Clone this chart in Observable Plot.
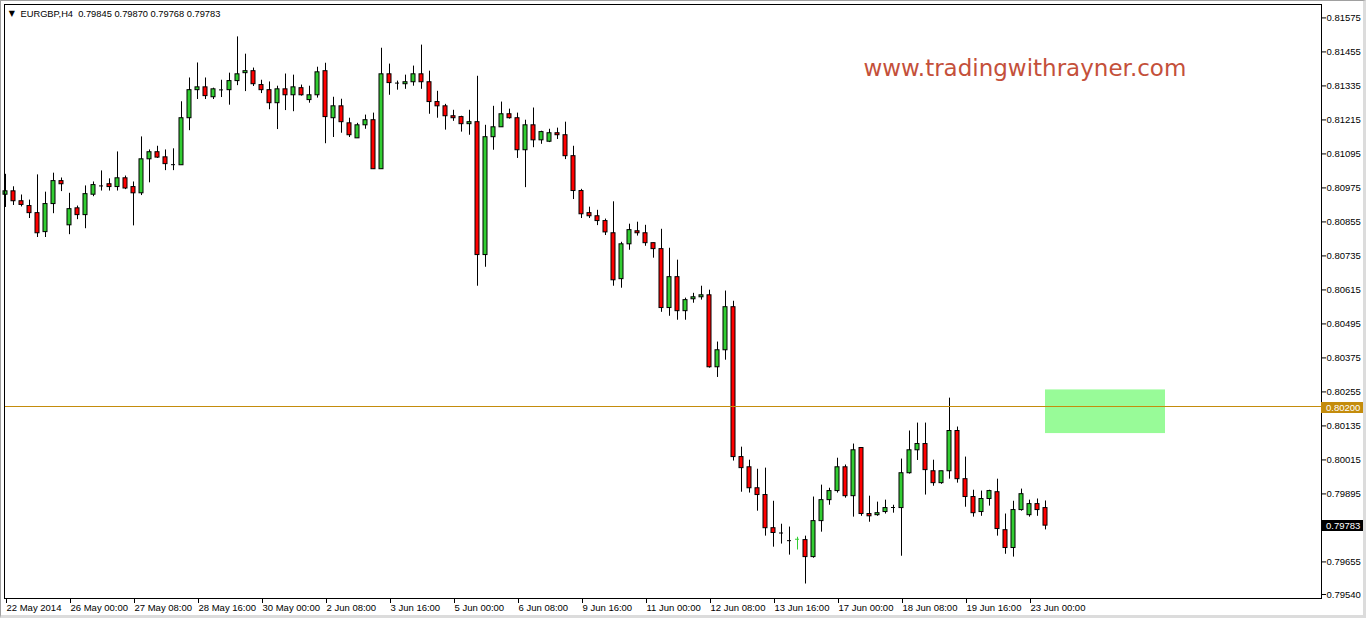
<!DOCTYPE html>
<html><head><meta charset="utf-8">
<script src="https://cdn.jsdelivr.net/npm/d3@7"></script>
<script src="https://cdn.jsdelivr.net/npm/@observablehq/plot@0.6"></script>
<style>
html,body{margin:0;padding:0;background:#fff;}
#wrap{position:relative;width:1366px;height:618px;overflow:hidden;}
#border{position:absolute;left:0;top:0;width:1366px;height:618px;box-sizing:border-box;border-top:1px solid #a0a0a0;border-left:1px solid #a0a0a0;border-right:3px solid #dcdcdc;border-bottom:3px solid #dcdcdc;pointer-events:none;}
</style></head><body><div id="wrap"><div id="chart"></div><div id="border"></div></div>
<script>
// ---- data (EURGBP, H4) ----
const symbol = "EURGBP,H4";
const opens = [0.80951,0.80963,0.80928,0.80911,0.80886,0.80819,0.80918,0.80999,0.80843,0.80903,
0.80879,0.80951,0.80982,0.80988,0.80978,0.81009,0.80978,0.80956,0.81076,0.81101,
0.81083,0.81057,0.81055,0.81221,0.81320,0.81330,0.81295,0.81321,0.81320,0.81352,
0.81380,0.81387,0.81338,0.81320,0.81274,0.81323,0.81302,0.81327,0.81285,0.81302,
0.81387,0.81221,0.81263,0.81203,0.81150,0.81196,0.81214,0.81041,0.81376,0.81345,
0.81341,0.81348,0.81376,0.81348,0.81278,0.81263,0.81228,0.81225,0.81200,0.81207,
0.80738,0.81154,0.81189,0.81235,0.81221,0.81108,0.81196,0.81143,0.81138,0.81168,
0.81161,0.81087,0.80964,0.80886,0.80875,0.80858,0.80815,0.80653,0.80776,0.80822,
0.80815,0.80780,0.80759,0.80551,0.80660,0.80540,0.80582,0.80589,0.80596,0.80342,
0.80402,0.80554,0.80025,0.79989,0.79915,0.79891,0.79774,0.79757,0.79730,0.79733,
0.79732,0.79672,0.79799,0.79873,0.79905,0.79989,0.79887,0.80057,0.79824,0.79820,
0.79831,0.79847,0.79845,0.79968,0.80049,0.80071,0.79975,0.79933,0.79975,0.80117,
0.79947,0.79884,0.79831,0.79877,0.79901,0.79767,0.79704,0.79838,0.79820,0.79859,
0.79845];
const highs = [0.81023,0.80979,0.80950,0.80932,0.81021,0.80960,0.81027,0.81010,0.80956,0.80911,
0.80982,0.80996,0.81035,0.81007,0.81102,0.81017,0.80996,0.81155,0.81109,0.81122,
0.81109,0.81113,0.81279,0.81363,0.81416,0.81363,0.81327,0.81355,0.81380,0.81508,
0.81447,0.81398,0.81355,0.81349,0.81334,0.81377,0.81373,0.81338,0.81334,0.81401,
0.81415,0.81295,0.81288,0.81221,0.81203,0.81232,0.81239,0.81468,0.81412,0.81352,
0.81373,0.81405,0.81479,0.81387,0.81316,0.81270,0.81249,0.81228,0.81249,0.81369,
0.81196,0.81263,0.81278,0.81253,0.81239,0.81214,0.81257,0.81175,0.81182,0.81186,
0.81207,0.81122,0.80970,0.80907,0.80896,0.80865,0.80926,0.80783,0.80847,0.80854,
0.80843,0.80780,0.80829,0.80762,0.80720,0.80586,0.80603,0.80628,0.80614,0.80431,
0.80611,0.80575,0.80060,0.80014,0.79982,0.79986,0.79869,0.79788,0.79778,0.79742,
0.79746,0.79884,0.79926,0.79915,0.80021,0.79997,0.80071,0.80057,0.79887,0.79866,
0.79873,0.79855,0.80018,0.80117,0.80145,0.80145,0.80014,0.79975,0.80233,0.80131,
0.80025,0.79908,0.79905,0.79908,0.79947,0.79824,0.79869,0.79912,0.79873,0.79877,
0.79870];
const lows = [0.80906,0.80913,0.80908,0.80867,0.80800,0.80800,0.80884,0.80962,0.80810,0.80863,
0.80831,0.80944,0.80964,0.80964,0.80964,0.80969,0.80841,0.80948,0.80993,0.81079,
0.81036,0.81036,0.81055,0.81177,0.81287,0.81287,0.81287,0.81294,0.81267,0.81336,
0.81315,0.81333,0.81308,0.81251,0.81181,0.81248,0.81244,0.81299,0.81274,0.81292,
0.81131,0.81153,0.81168,0.81153,0.81150,0.81182,0.81041,0.81041,0.81302,0.81320,
0.81323,0.81334,0.81323,0.81235,0.81221,0.81179,0.81210,0.81172,0.81161,0.80628,
0.80695,0.81108,0.81189,0.81218,0.81079,0.80976,0.81117,0.81129,0.81135,0.81146,
0.81075,0.80934,0.80867,0.80867,0.80842,0.80807,0.80628,0.80621,0.80755,0.80805,
0.80769,0.80727,0.80536,0.80522,0.80508,0.80508,0.80568,0.80579,0.80339,0.80306,
0.80367,0.80011,0.79901,0.79898,0.79834,0.79746,0.79707,0.79718,0.79679,0.79697,
0.79577,0.79668,0.79760,0.79855,0.79898,0.79880,0.79813,0.79816,0.79795,0.79816,
0.79824,0.79827,0.79675,0.79965,0.80013,0.79891,0.79922,0.79929,0.79947,0.79933,
0.79848,0.79813,0.79816,0.79852,0.79746,0.79682,0.79672,0.79834,0.79813,0.79816,
0.79768];
const closes = [0.80963,0.80928,0.80915,0.80886,0.80815,0.80918,0.80999,0.80988,0.80900,0.80879,
0.80953,0.80985,0.80982,0.80978,0.81009,0.80973,0.80956,0.81076,0.81101,0.81082,
0.81059,0.81057,0.81221,0.81320,0.81330,0.81299,0.81323,0.81321,0.81352,0.81376,
0.81387,0.81341,0.81320,0.81274,0.81323,0.81302,0.81330,0.81302,0.81302,0.81383,
0.81225,0.81263,0.81207,0.81161,0.81196,0.81214,0.81041,0.81376,0.81345,0.81345,
0.81348,0.81376,0.81348,0.81278,0.81263,0.81228,0.81221,0.81200,0.81207,0.80738,
0.81154,0.81189,0.81235,0.81221,0.81108,0.81196,0.81143,0.81172,0.81168,0.81161,
0.81087,0.80964,0.80882,0.80875,0.80858,0.80818,0.80649,0.80776,0.80826,0.80815,
0.80780,0.80759,0.80551,0.80660,0.80540,0.80579,0.80589,0.80596,0.80342,0.80402,
0.80554,0.80025,0.79986,0.79915,0.79891,0.79774,0.79757,0.79757,0.79730,0.79735,
0.79672,0.79799,0.79873,0.79905,0.79989,0.79887,0.80049,0.79824,0.79816,0.79827,
0.79845,0.79847,0.79968,0.80049,0.80071,0.79979,0.79933,0.79975,0.80117,0.79947,
0.79884,0.79827,0.79877,0.79905,0.79771,0.79704,0.79838,0.79894,0.79859,0.79838,
0.79783];
const xTickLabels = ["22 May 2014","26 May 00:00","27 May 08:00","28 May 16:00","30 May 00:00",
"2 Jun 08:00","3 Jun 16:00","5 Jun 00:00","6 Jun 08:00","9 Jun 16:00","11 Jun 00:00",
"12 Jun 08:00","13 Jun 16:00","17 Jun 00:00","18 Jun 08:00","19 Jun 16:00","23 Jun 00:00"];
const yTickValues = [0.81575,0.81455,0.81335,0.81215,0.81095,0.80975,0.80855,0.80735,0.80615,
0.80495,0.80375,0.80255,0.80135,0.80015,0.79895,0.79655,0.79540];
const hLinePrice = [0.80200];
const zoneBars = [130, 145];
const zonePrices = [0.80108, 0.80262];
const watermark = ["www.tradingwithrayner.com"];

// ---- view / style ----
const BARS_PER_LABEL = 8;
const GREEN = "#32cd32", RED = "#ff0000", GOLD = "#c48c0c", ZONE = "#98fb98";
const FONT = "'Liberation Sans', Arial, sans-serif";

const bars = opens.map((o, i) => ({i, o, h: highs[i], l: lows[i], c: closes[i]}));
const last = bars[bars.length - 1];
const isFlat = d => Math.abs(d.c - d.o) < 0.00003;
const lineColor = d => (isFlat(d) && d.c > d.o) ? GREEN : "#000";
const zone = [{b1: zoneBars[0], b2: zoneBars[1], p1: zonePrices[0], p2: zonePrices[1]}];
const xTickBars = xTickLabels.map((_, k) => k * BARS_PER_LABEL);
const header = symbol + "\u00a0 " + [last.o, last.h, last.l, last.c].map(v => v.toFixed(5)).join(" ");
const tags = [{p: hLinePrice[0], fill: GOLD}, {p: last.c, fill: "#000"}];

function priceTags(index, scales, values, dims) {
  const ys = scales.y || (scales.scales && scales.scales.y && scales.scales.y.apply);
  const g = d3.create("svg:g").attr("text-anchor", "start");
  const x0 = dims.width - dims.marginRight;
  for (const t of tags) {
    const y = Math.round(ys(t.p));
    g.append("rect").attr("x", x0).attr("y", y - 5).attr("width", 43).attr("height", 11).attr("fill", t.fill);
    g.append("text").attr("x", x0 + 5).attr("y", y + 0.5).attr("dy", "0.35em").attr("text-anchor", "start")
      .attr("fill", "#fff").attr("font-size", 9.5).attr("font-family", FONT).text(t.p.toFixed(5));
  }
  return g.node();
}

// horizontal level line drawn with the y scale, pixel-snapped
function levelLine(index, scales, values, dims) {
  const ys = scales.y || (scales.scales && scales.scales.y && scales.scales.y.apply);
  const g = d3.create("svg:g");
  for (const p of hLinePrice) {
    const y = Math.floor(ys(p)) + 0.5;
    g.append("line").attr("x1", dims.marginLeft).attr("x2", dims.width - dims.marginRight)
      .attr("y1", y).attr("y2", y).attr("stroke", GOLD).attr("stroke-width", 1)
      .attr("shape-rendering", "crispEdges");
  }
  return g.node();
}

const chart = Plot.plot({
  width: 1366, height: 618,
  marginLeft: 4, marginRight: 45, marginTop: 4, marginBottom: 20,
  style: {fontFamily: FONT, fontSize: "9.5px", color: "#000", background: "#fff", overflow: "visible"},
  x: {type: "linear", domain: [-0.125, 164.5], axis: null},
  y: {type: "linear", domain: [0.7952587, 0.8162237], axis: null},
  color: {type: "identity"},
  marks: [
    Plot.rect(zone, {x1: "b1", x2: "b2", y1: "p1", y2: "p2", fill: ZONE}),
    Plot.ruleX(bars, {x: "i", y1: "l", y2: "h", stroke: lineColor, strokeWidth: 1}),
    Plot.rect(bars.filter(d => !isFlat(d)), {x1: d => d.i - 0.25, x2: d => d.i + 0.25, y1: "o", y2: "c",
      fill: d => d.c > d.o ? GREEN : RED, stroke: "#000", strokeWidth: 1}),
    Plot.ruleY(bars.filter(isFlat), {y: "c", x1: d => d.i - 0.25, x2: d => d.i + 0.25, stroke: lineColor, strokeWidth: 1}),
    levelLine,
    Plot.frame({stroke: "#000"}),
    Plot.axisY({ticks: yTickValues, anchor: "right", tickSize: 4, tickPadding: 1,
      tickFormat: d => d.toFixed(5), label: null, fontSize: 9.5}),
    Plot.axisX({ticks: xTickBars, anchor: "bottom", tickSize: 5, tickPadding: 1,
      tickFormat: i => xTickLabels[i / BARS_PER_LABEL], textAnchor: "start", dx: 1, label: null, fontSize: 9.5}),
    priceTags,
    Plot.text(["\u25bc"], {frameAnchor: "top-left", dx: 7.3, dy: 9, textAnchor: "middle", lineAnchor: "middle",
      fontSize: 8, fontFamily: "DejaVu Sans", fill: "#000"}),
    Plot.text([header], {frameAnchor: "top-left", dx: 16, dy: 5.5, textAnchor: "start", lineAnchor: "top",
      fontSize: 9.3, fill: "#000"}),
    Plot.text(watermark, {frameAnchor: "top-left", dx: 859, dy: 54.7, textAnchor: "start", lineAnchor: "top",
      fontSize: 23, fontFamily: "DejaVu Sans", fill: "#c4503a"})
  ]
});
document.getElementById("chart").appendChild(chart);
</script>
</body></html>
